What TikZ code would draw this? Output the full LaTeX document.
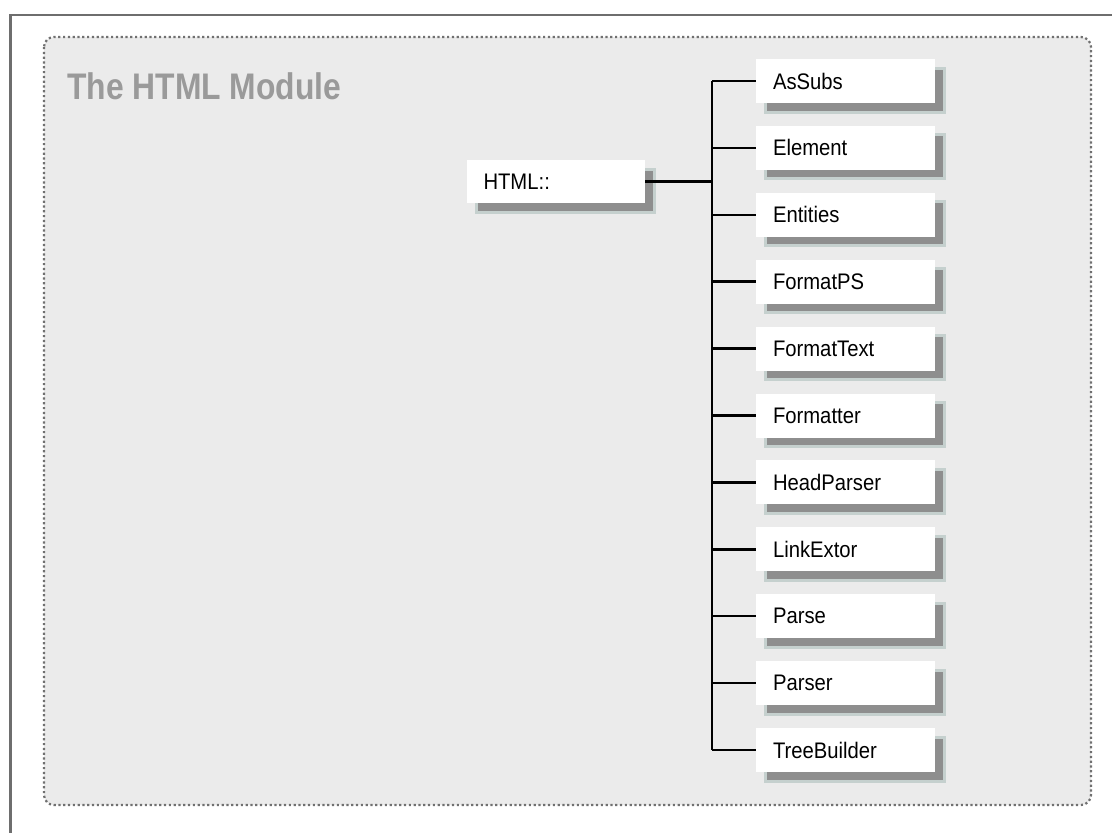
\documentclass[tikz,border=0pt]{standalone}
\usepackage{fontspec}
\usepackage{tikz}
\usetikzlibrary{shadows}
\newfontfamily\boxfont[FakeStretch=0.9]{Liberation Sans}
\newfontfamily\headfont[FakeStretch=0.86]{Liberation Sans}
\definecolor{modulegray}{HTML}{EBEBEB}
\definecolor{titlegray}{HTML}{9A9A9A}
\definecolor{framegray}{HTML}{6E6E6E}
\definecolor{dotgray}{HTML}{707070}
\definecolor{shadowgray}{HTML}{8E8E8E}
\definecolor{halogray}{HTML}{C5D0CE}
\tikzset{
    modbox/.style={fill=white, minimum width=179pt, minimum height=44pt, text width=145pt, align=left,
        inner xsep=17pt, font=\boxfont\fontsize{22.5}{26}\selectfont,
        drop shadow={fill=shadowgray, draw=halogray, line width=3pt, shadow xshift=9pt, shadow yshift=-9pt, opacity=1}}, % box with shadow
    branch/.style={line width=2.5pt, black}, % tree connectors
    dotborder/.style={draw=dotgray, line width=2.2pt, dash pattern=on 2.2pt off 2.6pt, rounded corners=10pt} % module area
}

\begin{document}
\begin{tikzpicture}[x=1pt, y=-1pt]
            \useasboundingbox (0,0) rectangle (1112,833);
            \draw[framegray, line width=2.5pt] (10.5,833) -- (10.5,15) -- (1112,15);

            \draw[dotborder, fill=modulegray] (44,37) rectangle (1091,805);
            \node[anchor=base west, inner sep=0pt, text=titlegray, font=\headfont\bfseries\fontsize{37}{42}\selectfont] (title) at (67,99) {The HTML Module};

            \node[modbox, minimum width=178pt, minimum height=43pt, text width=145pt, inner xsep=16pt] (html) at (556,181.5) {HTML::};
            \coordinate (trunk) at (712,0);

            \foreach \name [count=\i] in {AsSubs,Element,Entities,FormatPS,FormatText,Formatter,HeadParser,LinkExtor,Parse,Parser,TreeBuilder} {
                \node[modbox] (child\i) at (845.5,{81+66.9*(\i-1)}) {\name};
                \draw[branch] (child\i.west -| trunk) -- (child\i.west);
            }

            \draw[branch] (html.east) -- (html.east -| trunk);
            \draw[branch] (child1.west -| trunk) -- (child11.west -| trunk);
        \end{tikzpicture}
\end{document}
